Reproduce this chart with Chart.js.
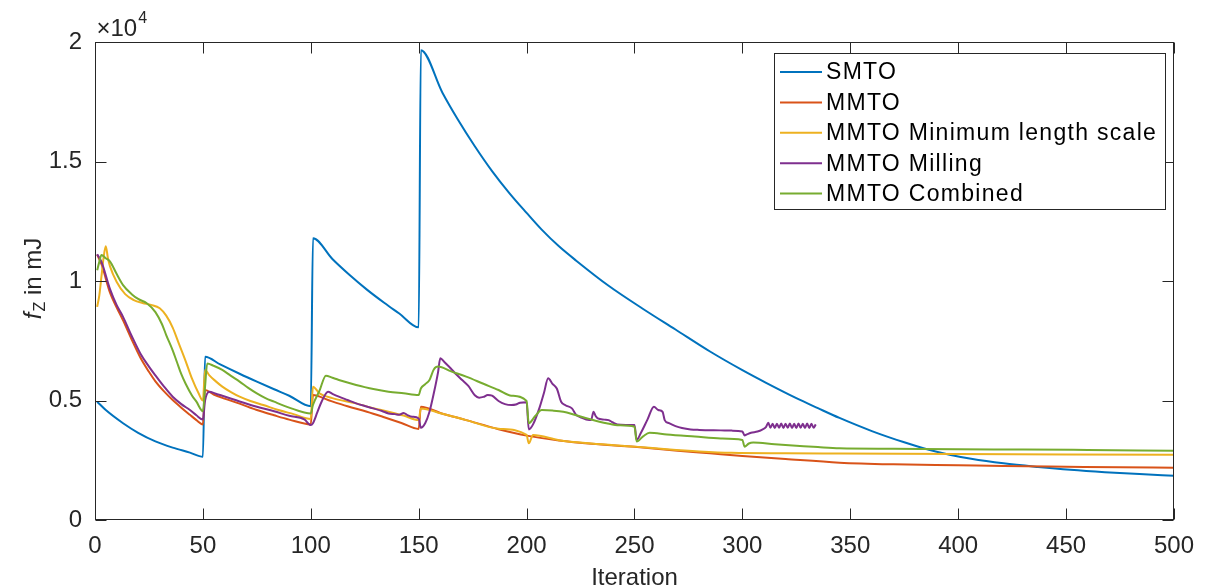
<!DOCTYPE html>
<html>
<head>
<meta charset="utf-8">
<script src="https://cdn.jsdelivr.net/npm/chart.js@4"></script>
<style>
  html, body { margin: 0; padding: 0; background: #fff; }
  #wrap { width: 1206px; height: 588px; }
</style>
</head>
<body>
<div id="wrap"><canvas id="c" width="1206" height="588"></canvas></div>
<script>
// iterations / f_Z values in mJ
const smtoIter = [1, 5, 13, 20, 28, 36, 44, 50,
    51, 58, 67, 75, 83, 90, 100,
    101, 110, 118, 126, 134, 141, 150,
    151, 161, 168, 176, 184, 192, 200, 207, 215, 223, 238, 254, 269, 285, 300, 311, 325, 335, 345, 360, 375, 386, 396, 406, 421, 437, 452, 468, 484, 500];
const smtoVal = [4950, 4600, 4050, 3650, 3290, 3030, 2820, 2650,
    6830, 6510, 6120, 5790, 5470, 5200, 4760,
    11790, 10920, 10250, 9640, 9090, 8640, 8060,
    19660, 17880, 16780, 15640, 14600, 13680, 12850, 12150, 11450, 10850, 9800, 8830, 7970, 7050, 6270, 5740, 5100, 4680, 4270, 3720, 3250, 2950, 2730, 2560, 2370, 2220, 2100, 2000, 1920, 1850];

const mmtoIter = [1, 3, 7, 10, 13, 17, 21, 25, 28, 32, 36, 40, 44, 47, 50,
    51, 55, 60, 67, 75, 83, 90, 100,
    101, 108, 117, 126, 134, 142, 150,
    151, 160, 172, 187, 200, 215, 230, 250, 270, 285, 300, 320, 345, 370, 400, 421, 450, 475, 500];
const mmtoVal = [11100, 10700, 9500, 8900, 8350, 7550, 6800, 6200, 5800, 5380, 5020, 4700, 4400, 4180, 4000,
    5440, 5250, 5080, 4870, 4600, 4380, 4200, 4000,
    5230, 5020, 4760, 4530, 4300, 4060, 3810,
    4740, 4480, 4180, 3800, 3530, 3330, 3190, 3060, 2900, 2790, 2680, 2550, 2400, 2330, 2290, 2260, 2230, 2205, 2190];

const mlsIter = [1, 2, 3, 4, 5, 6, 7, 10, 14, 18, 22, 26, 30, 33, 36, 39, 42, 45, 48, 50,
    51, 53, 56, 59, 63, 67, 72, 78, 85, 92, 100,
    101, 104, 110, 121, 128, 136, 143, 150,
    151, 160, 172, 187, 200, 201, 203, 215, 230, 250, 265, 280, 295, 320, 345, 400, 450, 500];
const mlsVal = [8920, 9400, 10200, 11000, 11450, 10950, 10600, 9970, 9450, 9200, 9080, 9000, 8860, 8550, 8050, 7350, 6650, 5900, 5300, 5000,
    6280, 6050, 5800, 5580, 5350, 5160, 4980, 4810, 4600, 4430, 4230,
    5580, 5300, 5100, 4880, 4700, 4530, 4370, 4180,
    4670, 4470, 4180, 3820, 3560, 3210, 3560, 3340, 3200, 3070, 2960, 2870, 2810, 2790, 2780, 2760, 2745, 2730];

const millIter = [1, 3, 7, 10, 13, 17, 21, 25, 28, 32, 36, 40, 44, 47, 50,
    51, 53, 56, 59, 67, 75, 83, 90, 97, 100,
    101, 103, 105, 108, 110, 113, 117, 121, 125, 129, 133, 136, 139, 141, 143, 145, 147, 150,
    151, 153, 155, 157, 159, 160, 162, 165, 167, 170, 173, 176, 178, 180, 182, 184, 187, 190, 193, 195, 197, 200,
    201, 203, 206, 208, 210, 212, 214, 216, 218, 221, 223, 225, 229, 230, 231, 232, 233, 236, 238, 240, 242, 246, 250,
    251, 253, 256, 259, 261, 263, 264, 266, 269, 272, 276, 280, 290, 295, 300, 301, 302, 304, 307, 309, 311, 312,
    313, 314, 315, 316, 317, 318, 319, 320, 321, 322, 323, 324, 325, 326, 327, 328, 329, 330, 331, 332, 333, 334];
const millVal = [11120, 10800, 9650, 9000, 8500, 7700, 6970, 6420, 6050, 5580, 5160, 4850, 4600, 4380, 4200,
    5000, 5370, 5280, 5200, 4960, 4740, 4550, 4360, 4210, 3970,
    4050, 4500, 4950, 5370, 5280, 5160, 5020, 4880, 4770, 4670, 4560, 4460, 4430, 4400, 4480, 4380, 4320, 4250,
    3860, 4050, 4530, 5300, 6200, 6770, 6600, 6330, 6130, 5870, 5610, 5220, 5120, 5150, 5230, 5200, 4980, 4850, 4810, 4830, 4910, 4930,
    3790, 4000, 4700, 5300, 5930, 5700, 5500, 4950, 4800, 4670, 4400, 4300, 4180, 4200, 4530, 4350, 4250, 4200, 4180, 4080, 4000, 3980, 3970,
    3350, 3650, 4200, 4740, 4600, 4530, 4180, 4050, 3930, 3850, 3790, 3770, 3750, 3740, 3700, 3540, 3580, 3650, 3700, 3770, 3900, 4070,
    3860, 4030, 3850, 4030, 3860, 4040, 3850, 4030, 3860, 4040, 3850, 4030, 3850, 4040, 3860, 4030, 3850, 4040, 3850, 4030, 3860, 4000];

const combIter = [1, 2, 3, 5, 7, 10, 13, 17, 20, 24, 28, 31, 33, 36, 38, 40, 42, 45, 47, 50,
    51, 52, 55, 59, 63, 67, 71, 75, 79, 83, 90, 97, 100,
    101, 104, 107, 110, 113, 117, 121, 125, 129, 136, 143, 150,
    151, 153, 155, 157, 159, 165, 172, 180, 187, 193, 200,
    201, 204, 207, 212, 217, 223, 229, 237, 243, 250,
    251, 254, 257, 265, 278, 290, 300, 301, 303, 305, 315, 325, 335, 345, 370, 400, 430, 460, 500];
const combVal = [10450, 10800, 11090, 10950, 10810, 10300, 9830, 9450, 9250, 9070, 8700, 8200, 7740, 7100, 6600, 6100, 5700, 5200, 4950, 4550,
    5580, 6550, 6450, 6280, 6030, 5790, 5530, 5300, 5100, 4950, 4700, 4500, 4460,
    4810, 5400, 6040, 5950, 5860, 5750, 5650, 5560, 5480, 5370, 5300, 5230,
    5500, 5680, 5860, 6300, 6420, 6220, 6000, 5700, 5440, 5200, 4980,
    4050, 4350, 4600, 4580, 4530, 4380, 4230, 4050, 3960, 3900,
    3280, 3500, 3650, 3580, 3490, 3410, 3350, 3070, 3200, 3240, 3170, 3110, 3050, 3000, 2980, 2960, 2950, 2930, 2900];

const seriesNames = ['SMTO', 'MMTO', 'MMTO Minimum length scale', 'MMTO Milling', 'MMTO Combined'];
const seriesColors = ['#0072BD', '#D95319', '#EDB120', '#7E2F8E', '#77AC30'];
const xTicks = [0, 50, 100, 150, 200, 250, 300, 350, 400, 450, 500];
const yTicks = [0, 5000, 10000, 15000, 20000];

const FONT = '"Liberation Sans", Arial, Helvetica, sans-serif';
const INK = '#262626';

const pts = (xs, ys) => xs.map((x, i) => ({ x: x, y: ys[i] }));
const allData = [pts(smtoIter, smtoVal), pts(mmtoIter, mmtoVal), pts(mlsIter, mlsVal), pts(millIter, millVal), pts(combIter, combVal)];

// matlab-like box, inward ticks, exponent, y label and legend
const matlabFrame = {
    id: 'matlabFrame',
    afterDraw(chart) {
        const { ctx, chartArea: a, scales } = chart;
        const L = Math.round(a.left) + 0.5, R = Math.round(a.right) - 0.5;
        const T = Math.round(a.top) + 0.5, B = Math.round(a.bottom) - 0.5;
        ctx.save();
        ctx.strokeStyle = INK;
        ctx.lineWidth = 1;
        ctx.strokeRect(L, T, R - L, B - T);
        ctx.beginPath();
        xTicks.forEach(v => {
            const px = Math.round(scales.x.getPixelForValue(v)) + 0.5;
            ctx.moveTo(px, B); ctx.lineTo(px, B - 11);
            ctx.moveTo(px, T); ctx.lineTo(px, T + 11);
        });
        yTicks.forEach(v => {
            const py = Math.round(scales.y.getPixelForValue(v)) + 0.5;
            ctx.moveTo(L, py); ctx.lineTo(L + 11, py);
            ctx.moveTo(R, py); ctx.lineTo(R - 11, py);
        });
        ctx.stroke();

        // x10^4
        ctx.fillStyle = INK;
        ctx.textBaseline = 'alphabetic';
        ctx.textAlign = 'left';
        ctx.font = '24px ' + FONT;
        ctx.fillText('\u00d710', L + 1, 36);
        const w10 = ctx.measureText('\u00d710').width;
        ctx.font = '16px ' + FONT;
        ctx.fillText('4', L + 2 + w10, 23);

        // y axis title, f_Z in mJ
        ctx.save();
        ctx.translate(41, 279);
        ctx.rotate(-Math.PI / 2);
        ctx.font = 'italic 24px ' + FONT;
        const wf = ctx.measureText('f').width;
        ctx.font = '16px ' + FONT;
        const wz = ctx.measureText('Z').width;
        ctx.font = '24px ' + FONT;
        const wr = ctx.measureText(' in mJ').width;
        const x0 = -(wf + wz + wr) / 2;
        ctx.font = 'italic 24px ' + FONT;
        ctx.fillText('f', x0, 0);
        ctx.font = '16px ' + FONT;
        ctx.fillText('Z', x0 + wf + 1, 4);
        ctx.font = '24px ' + FONT;
        ctx.fillText(' in mJ', x0 + wf + wz + 1, 0);
        ctx.restore();

        // x axis title
        ctx.textAlign = 'center';
        ctx.font = '24px ' + FONT;
        ctx.fillText('Iteration', (a.left + a.right) / 2, 585);

        // legend
        const lx = 774.5, ly = 53.5, lw = 391, lh = 156;
        ctx.fillStyle = '#fff';
        ctx.fillRect(lx, ly, lw, lh);
        ctx.strokeStyle = INK;
        ctx.strokeRect(lx, ly, lw, lh);
        ctx.font = '23px ' + FONT;
        ctx.textAlign = 'left';
        ctx.textBaseline = 'middle';
        if ('letterSpacing' in ctx) ctx.letterSpacing = '1.3px';
        seriesNames.forEach((name, i) => {
            const yy = 72 + i * 30.4;
            ctx.strokeStyle = seriesColors[i];
            ctx.lineWidth = 2;
            ctx.beginPath();
            ctx.moveTo(780, yy); ctx.lineTo(822, yy);
            ctx.stroke();
            ctx.fillStyle = '#000';
            ctx.fillText(name, 826, yy + 1);
        });
        ctx.restore();
    }
};

new Chart(document.getElementById('c'), {
    type: 'line',
    data: {
        datasets: seriesNames.map((name, i) => ({
            label: name,
            data: allData[i],
            borderColor: seriesColors[i],
            backgroundColor: seriesColors[i],
            borderWidth: 2,
            pointRadius: 0,
            fill: false,
            cubicInterpolationMode: 'monotone',
            order: seriesNames.length - i
        }))
    },
    options: {
        responsive: false,
        animation: false,
        devicePixelRatio: 1,
        layout: { padding: { top: 42, right: 30, left: 0, bottom: 0 } },
        plugins: { legend: { display: false }, tooltip: { enabled: false } },
        scales: {
            x: {
                type: 'linear',
                min: 0, max: 500,
                afterBuildTicks: s => { s.ticks = xTicks.map(v => ({ value: v })); },
                afterFit: s => { s.height = 68; },
                grid: { display: false, drawTicks: false },
                border: { display: false },
                ticks: { color: INK, font: { family: FONT, size: 24 }, padding: 12, maxRotation: 0 }
            },
            y: {
                min: 0, max: 20000,
                afterBuildTicks: s => { s.ticks = yTicks.map(v => ({ value: v })); },
                afterFit: s => { s.width = 95; },
                grid: { display: false, drawTicks: false },
                border: { display: false },
                ticks: { color: INK, font: { family: FONT, size: 24 }, padding: 13, callback: v => String(v / 10000) }
            }
        }
    },
    plugins: [matlabFrame]
});
</script>
</body>
</html>
